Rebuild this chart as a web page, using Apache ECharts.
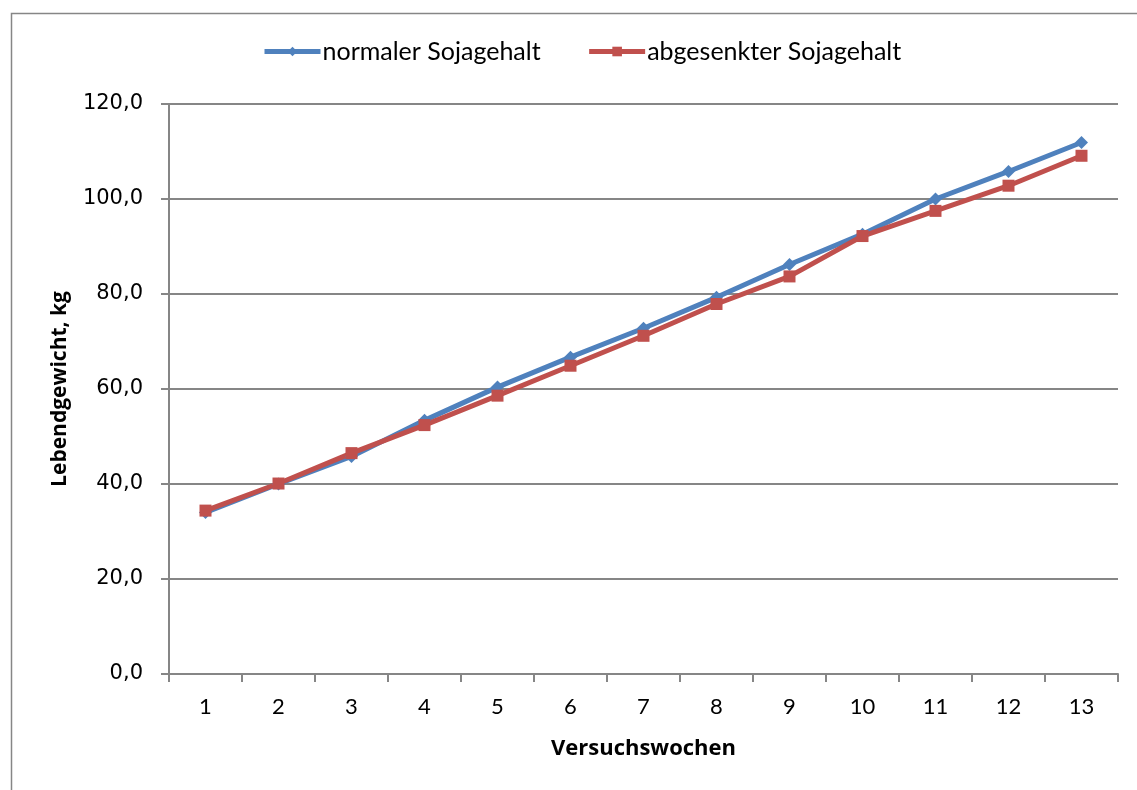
<!DOCTYPE html>
<html>
<head>
<meta charset="utf-8">
<script src="https://cdn.jsdelivr.net/npm/echarts@6/dist/echarts.min.js"></script>
<style>
html,body{margin:0;padding:0;background:#fff;}
#chart{width:1137px;height:790px;}
</style>
</head>
<body>
<div id="chart"></div>
<script>
var weeks = ['1','2','3','4','5','6','7','8','9','10','11','12','13'];
var normalSoja = [34.0, 40.0, 45.8, 53.4, 60.4, 66.7, 72.8, 79.3, 86.2, 92.6, 100.0, 105.8, 111.9];
var reducedSoja = [34.4, 40.1, 46.5, 52.4, 58.6, 64.9, 71.2, 77.9, 83.7, 92.2, 97.5, 102.8, 109.1];
var seriesNames = ['normaler Sojagehalt', 'abgesenkter Sojagehalt'];

var chart = echarts.init(document.getElementById('chart'), null, {renderer: 'canvas'});
var axisGray = '#868686';
chart.setOption({
  animation: false,
  backgroundColor: '#ffffff',
  graphic: [{
    type: 'rect', left: 9, top: 11, silent: true,
    shape: {x: 0, y: 0, width: 1200, height: 900},
    style: {fill: 'none', stroke: axisGray, lineWidth: 1.5}
  }],
  legend: {
    top: 34, left: 257,
    itemWidth: 56, itemHeight: 12, itemGap: 46,
    textStyle: {fontFamily: 'Lato', fontSize: 25, color: '#000', padding: [0, 0, 0, -3]},
    lineStyle: {width: 5},
    data: seriesNames
  },
  grid: {left: 169, right: 19, top: 104, bottom: 116, containLabel: false},
  xAxis: {
    type: 'category', data: weeks, boundaryGap: true,
    name: 'Versuchswochen', nameLocation: 'middle', nameGap: 64,
    nameTextStyle: {fontFamily: 'Open Sans', fontWeight: 'bold', fontSize: 22, color: '#000'},
    axisLine: {lineStyle: {color: axisGray, width: 2}},
    axisTick: {show: true, length: 8, lineStyle: {color: axisGray, width: 2}},
    axisLabel: {fontFamily: 'Lato', fontSize: 22, color: '#000', margin: 22}
  },
  yAxis: {
    type: 'value', min: 0, max: 120, interval: 20,
    name: 'Lebendgewicht, kg', nameLocation: 'middle', nameGap: 98,
    nameTextStyle: {fontFamily: 'Open Sans', fontWeight: 'bold', fontSize: 21, color: '#000'},
    axisLine: {show: true, lineStyle: {color: axisGray, width: 2}},
    axisTick: {show: true, length: 8, lineStyle: {color: axisGray, width: 2}},
    axisLabel: {fontFamily: 'DejaVu Sans', fontSize: 21, color: '#000', margin: 26,
      formatter: function(v){ return v.toFixed(1).replace('.', ','); }},
    splitLine: {lineStyle: {color: axisGray, width: 2}}
  },
  series: [{
    name: seriesNames[0], type: 'line', data: normalSoja,
    symbol: 'diamond', symbolSize: 13,
    lineStyle: {color: '#4F81BD', width: 5},
    itemStyle: {color: '#4F81BD'}
  }, {
    name: seriesNames[1], type: 'line', data: reducedSoja,
    symbol: 'rect', symbolSize: 12,
    lineStyle: {color: '#C0504D', width: 5},
    itemStyle: {color: '#C0504D'}
  }]
});
</script>
</body>
</html>
